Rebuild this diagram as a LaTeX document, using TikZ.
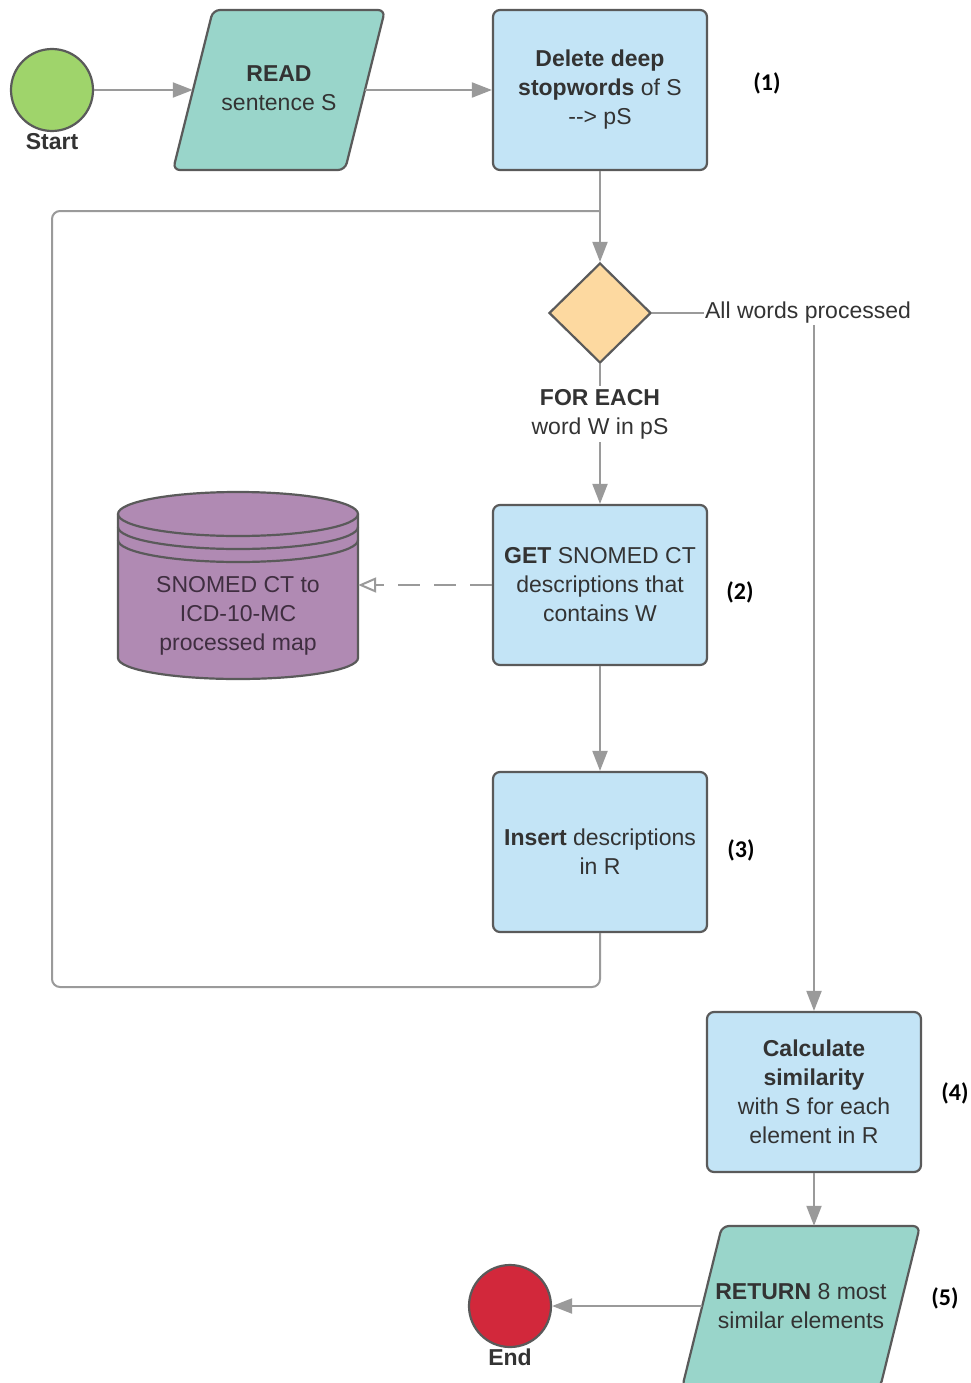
\documentclass[tikz,border=0pt]{standalone}
\usepackage{fontspec}
\setmainfont{Liberation Sans}
\newfontfamily\numfont{Carlito}
\usetikzlibrary{shapes.geometric,arrows.meta}
\definecolor{linegray}{HTML}{9A9A9A}
\definecolor{borderdark}{HTML}{5A5A5A}
\definecolor{textdark}{HTML}{333333}
\definecolor{dbtext}{HTML}{3F2E40}
\definecolor{startgreen}{HTML}{9FD46B}
\definecolor{ioteal}{HTML}{99D5CA}
\definecolor{boxblue}{HTML}{C3E4F6}
\definecolor{decorange}{HTML}{FDD9A0}
\definecolor{dbpurple}{HTML}{B08AB3}
\definecolor{endred}{HTML}{D2283B}
\tikzset{
  txt/.style={text=textdark, font=\fontsize{23}{29}\selectfont, align=center},
  procbox/.style={txt, draw=borderdark, line width=2.2pt, fill=boxblue, rounded corners=7pt, minimum width=214pt, minimum height=160pt, inner sep=2pt},
  iobox/.style={txt, minimum width=172pt, minimum height=160pt, inner sep=0pt},
  para/.style={draw=borderdark, line width=2.2pt, fill=ioteal, rounded corners=7pt},
  term/.style={circle, draw=borderdark, line width=2.2pt, minimum size=82pt, inner sep=0pt},
  conn/.style={draw=linegray, line width=2pt, -{Triangle[length=20pt,width=15pt]}},
  plainline/.style={draw=linegray, line width=2pt},
  dashconn/.style={draw=linegray, line width=2pt, dash pattern=on 22pt off 14pt, -{Triangle[open,length=18pt,width=15pt,line width=2pt]}},
  numlbl/.style={font=\numfont\bfseries\fontsize{24}{28}\selectfont, text=black},
  termlbl/.style={font=\bfseries\fontsize{23}{27}\selectfont, text=textdark},
  dbline/.style={draw=borderdark, line width=2.2pt}
}
\begin{document}
\begin{tikzpicture}[x=1pt,y=-1pt]
\useasboundingbox (0,0) rectangle (971,1383);
\fill[white] (0,0) rectangle (971,1383);

% parallelogram shapes
\draw[para] (173,170) -- (213,10) -- (385,10) -- (345,170) -- cycle;
\draw[para] (682,1388) -- (722,1226) -- (920,1226) -- (880,1388) -- cycle;

% database cylinder
\draw[dbline, fill=dbpurple]
  (118,514) -- (118,658) arc[start angle=180, end angle=360, x radius=120pt, y radius=21pt]
  -- (358,514) arc[start angle=0, end angle=180, x radius=120pt, y radius=22pt] -- cycle;
\draw[dbline] (118,514) arc[start angle=180, end angle=360, x radius=120pt, y radius=22pt];
\draw[dbline] (118,527) arc[start angle=180, end angle=360, x radius=120pt, y radius=22pt];
\draw[dbline] (118,540) arc[start angle=180, end angle=360, x radius=120pt, y radius=22pt];

% nodes
\node[term, fill=startgreen] (start) at (52,90) {};
\node[termlbl] (startlbl) at (52,142) {Start};
\node[iobox] (read) at (279,88) {\textbf{READ}\\sentence S};
\node[procbox] (del) at (600,90) {\textbf{Delete deep}\\\textbf{stopwords} of S\\\mbox{-}\mbox{-}> pS};
\node[numlbl] (n1) at (767,83) {(1)};
\node[diamond, draw=borderdark, line width=2.2pt, fill=decorange, minimum width=102pt, minimum height=100pt, inner sep=0pt] (dia) at (600,313) {};
\node[txt, inner sep=1pt] (allw) at (808,313) {All words processed};
\node[txt] (fe) at (600,414) {\textbf{FOR EACH}\\word W in pS};
\node[procbox] (get) at (600,585) {\textbf{GET} SNOMED CT\\descriptions that\\contains W};
\node[numlbl] (n2) at (740,592) {(2)};
\node[txt, text=dbtext, minimum width=240pt] (db) at (238,616) {SNOMED CT to\\ICD-10-MC\\processed map};
\node[procbox] (ins) at (600,852) {\textbf{Insert} descriptions\\in R};
\node[numlbl] (n3) at (741,850) {(3)};
\node[procbox] (calc) at (814,1092) {\textbf{Calculate}\\\textbf{similarity}\\with S for each\\element in R};
\node[numlbl] (n4) at (955,1093) {(4)};
\node[iobox, minimum width=198pt] (ret) at (801,1306) {\textbf{RETURN} 8 most\\similar elements};
\node[numlbl] (n5) at (945,1298) {(5)};
\node[term, fill=endred] (end) at (510,1306) {};
\node[termlbl] (endlbl) at (510,1357) {End};
\coordinate (join) at (600,211);

% connectors
\draw[conn] (start) -- (read.west |- start);
\draw[conn] (read.east |- del) -- (del);
\draw[conn] (del) -- (dia);
\draw[plainline] (dia.east) -- (dia.east -| allw.west);
\draw[conn] (allw.south -| calc.north) -- (calc.north);
\draw[plainline] (dia.south) -- (fe.north);
\draw[conn] (fe.south) -- (get.north);
\draw[dashconn] (get.west) -- (get.west -| db.east);
\draw[conn] (get) -- (ins);
\draw[plainline, rounded corners=8pt] (ins.south) |- (52,987) |- (join);
\draw[conn] (calc.south) -- (calc.south |- ret.north);
\draw[conn] (ret.west) -- (end);
\end{tikzpicture}
\end{document}
